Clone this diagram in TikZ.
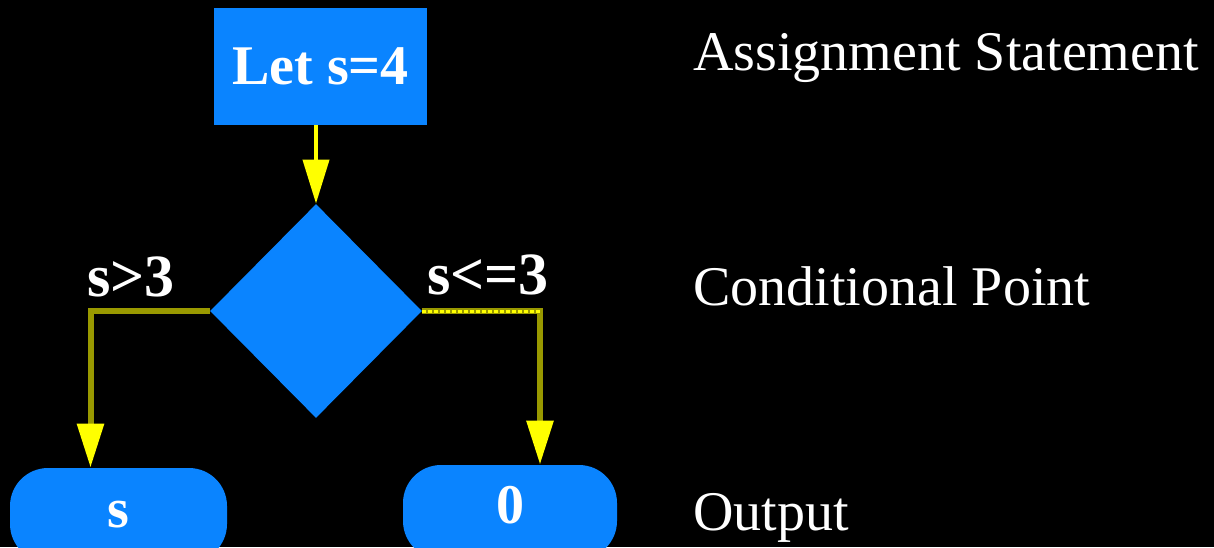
\documentclass[tikz,border=0pt]{standalone}
\usepackage{fontspec}
\setmainfont{Liberation Serif}
\usetikzlibrary{shapes.geometric,arrows.meta,calc}
\definecolor{boxblue}{RGB}{10,132,255}
\definecolor{olivey}{RGB}{153,153,0}
\definecolor{yel}{RGB}{255,255,0}
\begin{document}
\begin{tikzpicture}[x=0.5pt,y=-0.5pt,
  blk/.style={fill=boxblue, draw=none, text=white, font=\fontsize{28}{30}\selectfont\bfseries, inner sep=0pt},
  pill/.style={blk, rounded corners=19pt},
  lbl/.style={text=white, font=\fontsize{30}{32}\selectfont\bfseries, inner sep=0pt},
  desc/.style={text=white, font=\fontsize{28}{30}\selectfont, inner sep=0pt, anchor=base west},
  tip/.style={-{Triangle[length=22pt,width=13pt,color=yel]}},
  olv/.style={olivey, line width=3pt}]
\clip (0,0) rectangle (1214,547);
\fill[black] (0,0) rectangle (1214,547);
% nodes
\node[blk, minimum width=106.5pt, minimum height=58.5pt] (let) at (320.5,66.5) {Let s=4};
\node[blk, diamond, minimum width=106pt, minimum height=107pt] (dia) at (316,311) {};
\node[pill, minimum width=108.5pt, minimum height=47pt] (outs) at (118.5,515) {s};
\node[pill, minimum width=107pt, minimum height=47pt] (outz) at (510,512) {\raisebox{7pt}{0}};
\node[lbl] (gt) at (131,277) {s>3};
\node[lbl] (le) at (488,275) {s<=3};
\node[desc] (d1) at (693,70) {Assignment Statement};
\node[desc] (d2) at (693,305) {Conditional Point};
\node[desc] (d3) at (693,530) {Output};
% connectors
\coordinate (lc) at ([xshift=-14pt]outs.north);
\coordinate (rc) at ([xshift=15pt]outz.north);
\draw[yel, line width=2pt, tip] (let.south -| dia.north) -- (dia.north);
\draw[olv, tip] (dia.west) -| (lc);
\draw[olv, tip] (dia.east) -| (rc);
\draw[yel, line width=1.5pt, dash pattern=on 2pt off 1pt] (dia.east) -- (dia.east -| rc);
\end{tikzpicture}
\end{document}
